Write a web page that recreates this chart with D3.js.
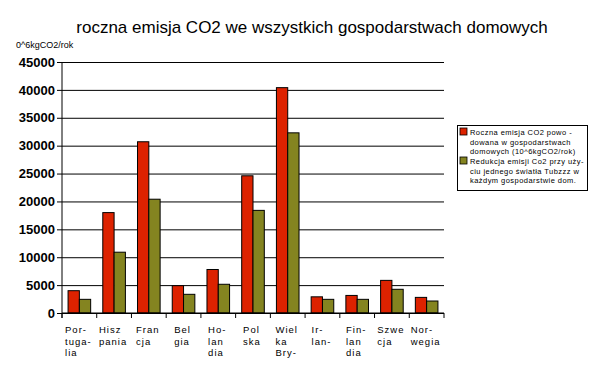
<!DOCTYPE html>
<html>
<head>
<meta charset="utf-8">
<script src="https://cdn.jsdelivr.net/npm/d3@7"></script>
<style>
  body { margin: 0; background: #fff; }
  svg { display: block; font-family: Arial, "Liberation Sans", sans-serif; }
</style>
</head>
<body>
<svg id="chart" width="594" height="368"></svg>
<script>
// country labels, already split into lines as in the original
const countries = [
  ["Por-", "tuga-", "lia"], ["Hisz", "pania"], ["Fran", "cja"], ["Bel", "gia"],
  ["Ho-", "lan", "dia"], ["Pol", "ska"], ["Wiel", "ka", "Bry-"], ["Ir-", "lan-"],
  ["Fin-", "lan", "dia"], ["Szwe", "cja"], ["Nor-", "wegia"]
];
const emission = [4000, 18000, 30700, 4900, 7800, 24600, 40400, 2900, 3150, 5850, 2800];
const reduction = [2450, 10900, 20400, 3350, 5150, 18400, 32300, 2450, 2450, 4250, 2150];
const yTicks = [0, 5000, 10000, 15000, 20000, 25000, 30000, 35000, 40000, 45000];
const legendLines = [
  ["Roczna emisja CO2 powo -", "dowana w gospodarstwach", "domowych (10^6kgCO2/rok)"],
  ["Redukcja emisji Co2 przy uży-", "ciu jednego światła Tubzzz w", "każdym gospodarstwie dom."]
];
const colors = ["#dd2200", "#848420"];

const svg = d3.select("#chart");
const plotL = 62, plotR = 444, plotT = 62, plotB = 313;

const x = d3.scaleBand().domain(d3.range(countries.length)).range([plotL, plotR]).paddingInner(0).paddingOuter(0);
const y = d3.scaleLinear().domain([0, 45000]).range([plotB, plotT]);
const sub = d3.scaleBand().domain([0, 1]).range([0, 22.6]);
const groupOffset = (x.bandwidth() - 22.6) / 2;

// title
svg.append("text").attr("x", 312).attr("y", 33).attr("text-anchor", "middle")
  .style("font-size", "17px").text("roczna emisja CO2 we wszystkich gospodarstwach domowych");
svg.append("text").attr("x", 16).attr("y", 48).style("font-size", "9px").text("0^6kgCO2/rok");

// grid + y axis
const yAxis = d3.axisLeft(y).tickValues(yTicks).tickFormat(d3.format("d"))
  .tickSize(-(plotR - plotL)).tickSizeOuter(0).tickPadding(7);
const gy = svg.append("g").attr("transform", `translate(${plotL},0)`).call(yAxis);
gy.select(".domain").remove();
gy.selectAll(".tick line").attr("stroke", "#000").attr("x1", -5);
gy.selectAll(".tick text").style("font-size", "13px").style("font-weight", "bold")
  .style("font-family", "'Liberation Sans', Arial, sans-serif").attr("fill", "#000");

// bars
const groups = svg.append("g").selectAll("g").data(countries).join("g")
  .attr("transform", (d, i) => `translate(${x(i) + groupOffset},0)`);
[emission, reduction].forEach((series, s) => {
  groups.append("rect")
    .attr("x", sub(s)).attr("width", sub.bandwidth())
    .attr("y", (d, i) => y(series[i])).attr("height", (d, i) => plotB - y(series[i]))
    .attr("fill", colors[s]).attr("stroke", "#000").attr("stroke-width", 1);
});

// axes lines
svg.append("line").attr("x1", plotL).attr("x2", plotL).attr("y1", plotT).attr("y2", plotB + 5).attr("stroke", "#000");
const xAxis = d3.axisBottom(x).tickSize(5).tickFormat("");
const gx = svg.append("g").attr("transform", `translate(0,${plotB})`).call(xAxis);
gx.select(".domain").attr("d", `M${plotL},0H${plotR}`);
gx.selectAll(".tick line").attr("transform", `translate(${-x.bandwidth() / 2},0)`);
gx.append("line").attr("x1", plotR).attr("x2", plotR).attr("y1", 0).attr("y2", 5).attr("stroke", "#000");

// category labels, left aligned lines with the block centred on the band
countries.forEach((lines, i) => {
  const t = svg.append("text").style("font-size", "9.5px").style("letter-spacing", "1px");
  lines.forEach((l, j) => t.append("tspan").attr("y", 333 + j * 11.5).text(l));
  const w = d3.max(t.selectAll("tspan").nodes(), n => n.getComputedTextLength());
  const x0 = x(i) + x.bandwidth() / 2 - w / 2 - 1;
  t.selectAll("tspan").attr("x", x0);
});

// legend
const lg = svg.append("g");
lg.append("rect").attr("x", 457.5).attr("y", 125.5).attr("width", 130).attr("height", 65)
  .attr("fill", "#fff").attr("stroke", "#000");
legendLines.forEach((lines, s) => {
  const y0 = 128 + s * 29;
  lg.append("rect").attr("x", 460).attr("y", y0).attr("width", 7).attr("height", 7)
    .attr("fill", colors[s]).attr("stroke", "#000").attr("stroke-width", 0.8);
  const t = lg.append("text").style("font-size", "7.5px").style("letter-spacing", "0.45px");
  lines.forEach((l, j) => t.append("tspan").attr("x", 470).attr("y", y0 + 7 + j * 9.5).text(l));
});
</script>
</body>
</html>
